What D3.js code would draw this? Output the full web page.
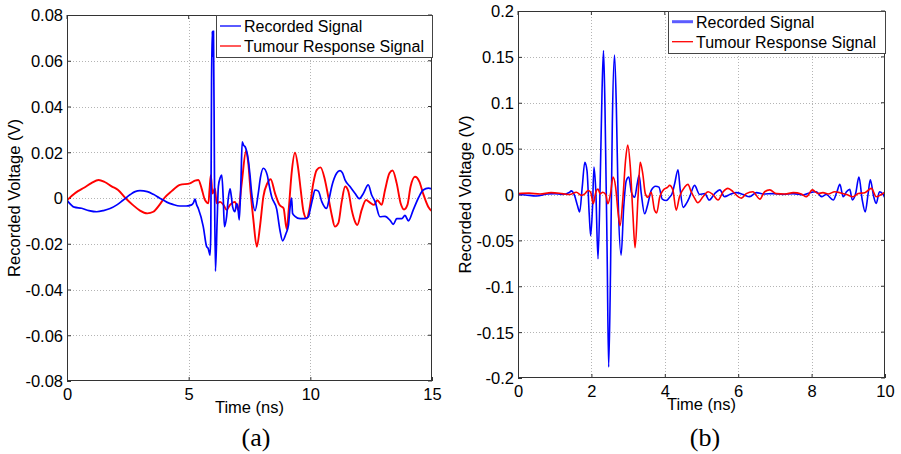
<!DOCTYPE html>
<html><head><meta charset="utf-8">
<script src="https://cdn.jsdelivr.net/npm/d3@7"></script>
<style>
body{margin:0;background:#fff;}
</style></head>
<body><svg id="c" width="901" height="454"></svg>
<script>
// ---------- data (time in ns, voltage in V) ----------
const seriesNames = ["Recorded Signal", "Tumour Response Signal"];

const aXTicks = [0, 5, 10, 15];
const aYTicks = [-0.08, -0.06, -0.04, -0.02, 0, 0.02, 0.04, 0.06, 0.08];
const aYTickLabels = ["-0.08", "-0.06", "-0.04", "-0.02", "0", "0.02", "0.04", "0.06", "0.08"];

const bXTicks = [0, 2, 4, 6, 8, 10];
const bYTicks = [-0.2, -0.15, -0.1, -0.05, 0, 0.05, 0.1, 0.15, 0.2];
const bYTickLabels = ["-0.2", "-0.15", "-0.1", "-0.05", "0", "0.05", "0.1", "0.15", "0.2"];

const aRecorded = [[0,-0.001],[0.3,-0.004],[0.6,-0.0045],[0.9,-0.0055],[1.22,-0.006],[1.5,-0.0055],[1.77,-0.0046],[2.05,-0.003],[2.3,-0.001],[2.6,0.0015],[2.8,0.0028],[3.0,0.0032],[3.3,0.0028],[3.55,0.0016],[3.8,0],[4.1,-0.0018],[4.35,-0.0028],[4.64,-0.0035],[4.9,-0.0035],[5.12,-0.003],[5.2,-0.002],[5.26,-0.0005],[5.33,-0.003],[5.4,-0.0047],[5.6,-0.0125],[5.74,-0.0213],[5.8,-0.022],[5.88,-0.025],[5.91,-0.015],[5.94,0.05],[5.97,0.073],[6.0,0.062],[6.02,0.073],[6.06,0.01],[6.1,-0.032],[6.17,-0.01],[6.22,0.005],[6.3,0.009],[6.36,0.010],[6.42,0.0],[6.47,-0.0125],[6.56,-0.008],[6.63,0.0],[6.7,0.004],[6.75,0.001],[6.81,-0.004],[6.9,-0.006],[6.97,-0.0025],[7.02,-0.004],[7.08,-0.0096],[7.15,0.008],[7.2,0.0246],[7.26,0.023],[7.32,0.0224],[7.45,0.0166],[7.52,0.01],[7.59,0.002],[7.73,-0.0055],[7.86,0.002],[7.95,0.009],[8.07,0.013],[8.23,0.010],[8.3,0.006],[8.41,0.0006],[8.62,-0.005],[8.75,-0.014],[8.86,-0.0187],[9.0,-0.0155],[9.1,-0.012],[9.15,-0.006],[9.19,-0.002],[9.23,0],[9.27,-0.0067],[9.37,-0.008],[9.58,-0.009],[9.78,-0.009],[9.92,-0.0083],[9.99,-0.0052],[10.1,0.0],[10.19,0.0035],[10.33,0.003],[10.47,-0.0016],[10.67,-0.0046],[10.78,0.0],[10.88,0.005],[11.08,0.0108],[11.22,0.012],[11.32,0.011],[11.43,0.0078],[11.63,0.005],[11.84,0.002],[12.01,-0.0003],[12.18,0.002],[12.38,0.0057],[12.52,0.0013],[12.66,-0.0016],[12.86,-0.0082],[13.07,-0.008],[13.28,-0.0098],[13.41,-0.0115],[13.55,-0.009],[13.76,-0.009],[13.89,-0.0076],[14.03,-0.01],[14.23,-0.0052],[14.44,0],[14.64,0.0035],[14.85,0.0043],[15,0.004]];

const aTumour = [[0,-0.001],[0.2,0.001],[0.45,0.003],[0.7,0.0045],[1.0,0.0065],[1.3,0.0079],[1.55,0.007],[1.85,0.005],[2.1,0.0035],[2.4,0],[2.7,-0.003],[3.0,-0.0055],[3.3,-0.0067],[3.55,-0.006],[3.8,-0.003],[4.0,0],[4.3,0.003],[4.64,0.0057],[5.05,0.0064],[5.26,0.0076],[5.4,0.0079],[5.53,0.0042],[5.67,-0.0009],[5.81,-0.0023],[5.86,0.004],[5.91,0.010],[5.98,0.002],[6.08,0.0042],[6.15,-0.0023],[6.29,-0.0017],[6.43,-0.003],[6.56,-0.0052],[6.7,-0.003],[6.9,-0.0017],[7.04,-0.0052],[7.18,0.0064],[7.36,0.0207],[7.45,0.0152],[7.55,0.002],[7.66,-0.0096],[7.8,-0.0213],[7.93,-0.0125],[8.07,0.0006],[8.23,0.0064],[8.37,0.0082],[8.55,0.002],[8.73,-0.003],[8.9,-0.0045],[9.03,-0.0137],[9.12,-0.004],[9.23,0.0108],[9.37,0.0198],[9.51,0.0122],[9.6,0.004],[9.72,-0.006],[9.85,-0.009],[9.96,-0.005],[10.12,0.0064],[10.26,0.0122],[10.42,0.0134],[10.6,0.0079],[10.74,0.0004],[10.88,-0.0074],[11.01,-0.0125],[11.15,-0.011],[11.29,-0.0016],[11.43,0.005],[11.56,0.003],[11.7,-0.0052],[11.84,-0.0104],[11.93,-0.0118],[12.11,-0.0052],[12.29,-0.0009],[12.45,-0.002],[12.62,-0.003],[12.75,-0.001],[12.93,-0.003],[13.07,0.0035],[13.25,0.0108],[13.38,0.012],[13.55,0.0064],[13.71,-0.0023],[13.85,-0.005],[13.99,-0.003],[14.12,0.005],[14.3,0.0093],[14.48,0.0072],[14.64,0.0018],[14.85,-0.0039],[15,-0.0058]];

const bRecorded = [[0,0],[0.2,-0.0005],[0.5,-0.0016],[0.8,0.0005],[1.0,0.001],[1.2,0],[1.41,0.0025],[1.45,0.004],[1.54,-0.001],[1.62,-0.012],[1.68,-0.019],[1.75,0.008],[1.82,0.035],[1.88,0.026],[1.94,-0.021],[1.98,-0.045],[2.03,-0.014],[2.07,0.030],[2.12,0.004],[2.18,-0.070],[2.24,0.015],[2.29,0.113],[2.33,0.157],[2.37,0.095],[2.43,-0.068],[2.47,-0.188],[2.52,-0.086],[2.57,0.077],[2.63,0.152],[2.68,0.095],[2.73,-0.0065],[2.81,-0.066],[2.88,-0.014],[2.95,0.015],[3.02,0.019],[3.09,0.0025],[3.18,-0.003],[3.25,0.012],[3.3,0.021],[3.36,0.0007],[3.45,-0.021],[3.54,-0.010],[3.63,0.0044],[3.75,0.009],[3.84,0.008],[3.93,-0.005],[4.04,-0.0065],[4.13,-0.003],[4.2,0.001],[4.27,0.012],[4.36,0.027],[4.42,0.005],[4.5,-0.014],[4.59,-0.0097],[4.68,-0.0024],[4.81,0.010],[4.95,0],[5.09,0.001],[5.21,-0.006],[5.36,0.001],[5.5,0.005],[5.63,-0.0024],[5.77,0],[5.95,0.002],[6.13,0],[6.31,-0.0024],[6.5,0.002],[6.68,0.0005],[6.95,0.001],[7.22,0],[7.5,0.001],[7.77,-0.0005],[7.95,0.002],[8.13,0.003],[8.27,-0.0024],[8.4,0],[8.59,-0.006],[8.69,0.003],[8.77,0.011],[8.86,-0.0024],[8.95,0.003],[9.04,0.0056],[9.11,-0.006],[9.2,0.001],[9.29,0.019],[9.38,-0.006],[9.46,-0.019],[9.54,0.001],[9.6,0.016],[9.69,-0.002],[9.76,-0.0097],[9.85,0.003],[9.93,0.001],[10,-0.004]];

const bTumour = [[0,0.001],[0.3,0.0015],[0.6,0.0005],[0.9,0.002],[1.2,0.001],[1.41,0],[1.59,0.0025],[1.73,-0.001],[1.82,0.0007],[1.91,0.0044],[1.98,0.0025],[2.05,-0.010],[2.12,0.0025],[2.18,0.006],[2.24,0.0007],[2.31,0.0025],[2.39,0],[2.45,-0.010],[2.52,0.0007],[2.59,0.019],[2.66,0.008],[2.72,-0.017],[2.78,-0.034],[2.86,-0.003],[2.93,0.037],[2.99,0.054],[3.06,0.030],[3.13,-0.021],[3.19,-0.058],[3.27,-0.003],[3.33,0.035],[3.4,0.0225],[3.47,0.0007],[3.54,-0.003],[3.63,0.0025],[3.72,-0.017],[3.78,-0.020],[3.86,-0.003],[3.95,0.0044],[4.08,0.008],[4.13,0.010],[4.22,0.005],[4.31,-0.017],[4.4,-0.0024],[4.54,0.008],[4.63,0.011],[4.72,0.003],[4.81,-0.004],[4.9,-0.009],[5.04,-0.0024],[5.18,0.003],[5.31,0],[5.45,-0.006],[5.59,0.003],[5.72,0.0067],[5.86,0.003],[6.0,-0.0024],[6.09,-0.004],[6.22,0.001],[6.4,0.003],[6.59,-0.005],[6.72,0.003],[6.86,0.005],[7.04,0.001],[7.27,0.0005],[7.5,0.002],[7.72,0.0005],[7.86,-0.0024],[8.02,0.005],[8.18,0.001],[8.31,0.002],[8.45,0.0005],[8.63,0.003],[8.77,0.002],[8.95,0],[9.13,-0.0024],[9.27,0.001],[9.45,0.002],[9.63,0.0067],[9.76,-0.0024],[9.9,0],[10,0.003]];

// ---------- drawing ----------
const SANS = "'Liberation Sans', Arial, sans-serif";
const SERIF = "'Liberation Serif', 'Times New Roman', serif";
const FS = 16.5;
const svg = d3.select("#c");
svg.append("rect").attr("width",901).attr("height",454).attr("fill","#fff");

function panel(cfg){
  const g = svg.append("g");
  const x = d3.scaleLinear().domain(cfg.xDomain).range([cfg.left, cfg.right]);
  const y = d3.scaleLinear().domain(cfg.yDomain).range([cfg.bottom, cfg.top]);
  // grid
  const grid = g.append("g").attr("stroke","#b4b4b4").attr("stroke-width",1).attr("stroke-dasharray","1,2");
  cfg.xTicks.slice(1,-1).forEach(t=>{
    grid.append("line").attr("x1",Math.round(x(t))+0.5).attr("x2",Math.round(x(t))+0.5).attr("y1",cfg.top).attr("y2",cfg.bottom);
  });
  cfg.yTicks.slice(1,-1).forEach(t=>{
    grid.append("line").attr("y1",Math.round(y(t))+0.5).attr("y2",Math.round(y(t))+0.5).attr("x1",cfg.left).attr("x2",cfg.right);
  });
  // axes via d3.axis
  const xAxis = d3.axisBottom(x).tickValues(cfg.xTicks).tickSizeInner(-4).tickSizeOuter(0).tickPadding(7).tickFormat(d3.format("d"));
  const yAxis = d3.axisLeft(y).tickValues(cfg.yTicks).tickSizeInner(-4).tickSizeOuter(0).tickPadding(4)
      .tickFormat((d,i)=>cfg.yLabels[i]);
  const xa = g.append("g").attr("transform",`translate(0,${cfg.bottom})`).call(xAxis);
  const ya = g.append("g").attr("transform",`translate(${cfg.left},0)`).call(yAxis);
  [xa,ya].forEach(a=>{
    a.attr("font-family",null).attr("font-size",null);
    a.select(".domain").remove();
    a.selectAll("line").attr("stroke","#333");
    a.selectAll("text").style("font-size",FS+"px").attr("fill","#000").style("font-family",SANS);
  });
  ya.selectAll("text").attr("dy","0.36em");
  // top/right mirror ticks
  const mt = g.append("g").attr("stroke","#333");
  cfg.xTicks.forEach(t=>mt.append("line").attr("x1",x(t)).attr("x2",x(t)).attr("y1",cfg.top).attr("y2",cfg.top+4));
  cfg.yTicks.forEach(t=>mt.append("line").attr("y1",y(t)).attr("y2",y(t)).attr("x1",cfg.right).attr("x2",cfg.right-4));

  // lines
  const line = d3.line().x(d=>x(d[0])).y(d=>y(d[1])).curve(d3.curveMonotoneX);
  const clipId = "clip"+cfg.id;
  g.append("clipPath").attr("id",clipId).append("rect")
    .attr("x",cfg.left).attr("y",cfg.top).attr("width",cfg.right-cfg.left).attr("height",cfg.bottom-cfg.top);
  const lg = g.append("g").attr("clip-path",`url(#${clipId})`);
  cfg.order.forEach(k=>{
    const s = cfg.series[k];
    lg.append("path").datum(s.data).attr("fill","none").attr("stroke",s.color)
      .attr("stroke-width",s.width).attr("stroke-linejoin","round").attr("d",line);
  });

  // box
  g.append("rect").attr("x",cfg.left+0.5).attr("y",cfg.top+0.5).attr("width",cfg.right-cfg.left-1).attr("height",cfg.bottom-cfg.top-1)
    .attr("fill","none").attr("stroke","#333").attr("stroke-width",1);

  // legend
  const L = cfg.legend;
  g.append("rect").attr("x",L.x+0.5).attr("y",L.y+0.5).attr("width",L.w).attr("height",L.h)
    .attr("fill","#fff").attr("stroke","#444").attr("stroke-width",1);
  seriesNames.forEach((name,i)=>{
    const s = cfg.series[i];
    const yy = L.y + L.row0 + i*L.gap;
    g.append("line").attr("x1",L.x+L.lx0).attr("x2",L.x+L.lx1).attr("y1",yy).attr("y2",yy)
      .attr("stroke",s.legColor||s.color).attr("stroke-width",s.legWidth||1.3);
    g.append("text").attr("x",L.x+L.tx).attr("y",yy+5.8).style("font-size","16px").style("font-family",SANS).attr("fill","#000").text(name);
  });

  // axis titles
  g.append("text").attr("x",(cfg.left+cfg.right)/2).attr("y",cfg.bottom+32).attr("text-anchor","middle")
    .style("font-size",FS+"px").style("font-family",SANS).text("Time (ns)");
  g.append("text").attr("transform",`translate(${cfg.yTitleX},${(cfg.top+cfg.bottom)/2}) rotate(-90)`)
    .attr("text-anchor","middle").style("font-size",FS+"px").style("font-family",SANS).text("Recorded Voltage (V)");
  g.append("text").attr("x",cfg.capX).attr("y",446).attr("text-anchor","middle")
    .style("font-family",SERIF).style("font-size","26px").text(cfg.caption);
}

panel({
  id:"a", left:67, right:432, top:15, bottom:381,
  xDomain:[0,15], yDomain:[-0.08,0.08], xTicks:aXTicks, yTicks:aYTicks, yLabels:aYTickLabels,
  series:[{data:aRecorded,color:"#0000ff",width:1.7},{data:aTumour,color:"#ff0000",width:1.9}],
  order:[1,0],
  legend:{x:216,y:15,w:216,h:42,row0:11,gap:20,lx0:4,lx1:25,tx:28},
  yTitleX:20, capX:256, caption:"(a)"
});
panel({
  id:"b", left:518, right:885, top:11, bottom:378,
  xDomain:[0,10], yDomain:[-0.2,0.2], xTicks:bXTicks, yTicks:bYTicks, yLabels:bYTickLabels,
  series:[{data:bRecorded,color:"#0000ff",width:1.6,legColor:"#5c5cff",legWidth:3},{data:bTumour,color:"#ff0000",width:1.6}],
  order:[0,1],
  legend:{x:668,y:11,w:217,h:42,row0:10.7,gap:20,lx0:4,lx1:25,tx:28},
  yTitleX:471, capX:705, caption:"(b)"
});
</script></body></html>
